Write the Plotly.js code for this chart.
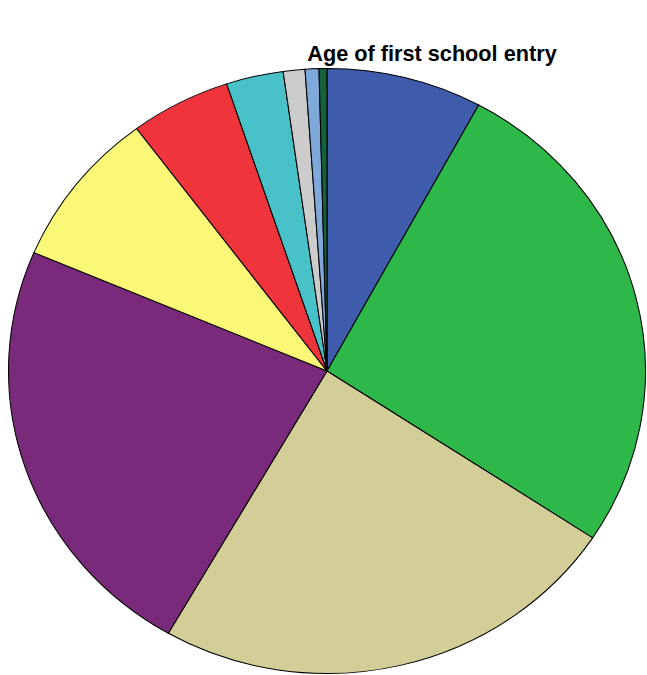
<!DOCTYPE html>
<html>
<head>
<meta charset="utf-8">
<script src="https://cdn.plot.ly/plotly-3.0.1.min.js"></script>
<style>html,body{margin:0;padding:0;background:#fff;}</style>
</head>
<body>
<div id="chart" style="width:647px;height:675px;"></div>
<script>
const chartTitle = "Age of first school entry";
const categories = ["Age 1", "Age 2", "Age 3", "Age 4", "Age 5", "Age 6", "Age 7", "Age 8", "Age 9", "Age 10"];
const values = [7.9, 26.4, 24.0, 23.1, 8.4, 5.1, 2.9, 1.1, 0.7, 0.4];
const colors = ["#3E5BAC", "#2FB84A", "#D3CE98", "#7A2A7A", "#FAF876", "#EF343B", "#48C2C8", "#CCCCCC", "#7EA9DA", "#17613A"];

const W = 647, H = 675;
const cx = 327, cy = 371, ry = 302.5, rx = 318.5;

const data = [{
  type: "pie",
  labels: categories,
  values: values,
  sort: false,
  direction: "clockwise",
  rotation: 0,
  textinfo: "none",
  hoverinfo: "label+percent",
  marker: {colors: colors, line: {color: "#000000", width: 1}},
  domain: {
    x: [(cx - ry) / W, (cx + ry) / W],
    y: [(H - cy - ry) / H, (H - cy + ry) / H]
  }
}];

const layout = {
  width: W, height: H,
  margin: {l: 0, r: 0, t: 0, b: 0},
  paper_bgcolor: "#ffffff",
  showlegend: false,
  title: {
    text: "<b>" + chartTitle + "</b>",
    font: {family: "Liberation Sans, Arial, sans-serif", size: 21.7, color: "#000000"},
    x: 432 / W, xref: "paper", xanchor: "center",
    y: 1 - 53 / H, yref: "paper", yanchor: "middle"
  }
};

Plotly.newPlot("chart", data, layout, {staticPlot: true}).then(function () {
  const pl = document.querySelector("#chart .pielayer");
  if (pl) {
    const s = rx / ry;
    const prev = pl.getAttribute("transform") || "";
    pl.setAttribute("transform", "translate(" + cx + ",0) scale(" + s + ",1) translate(" + (-cx) + ",0) " + prev);
  }
});
</script>
</body>
</html>
